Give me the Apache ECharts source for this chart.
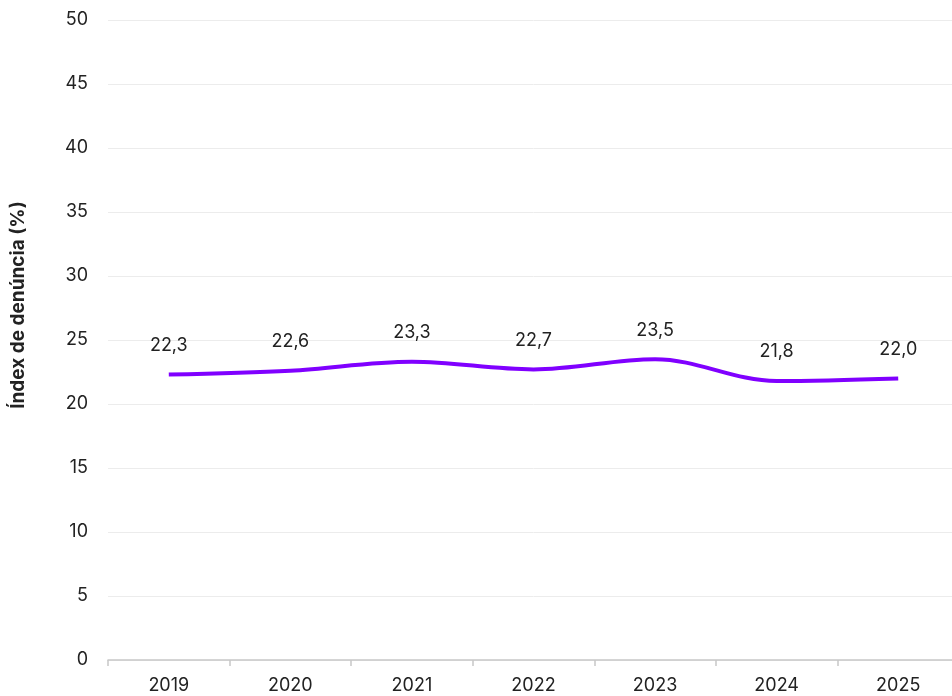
<!DOCTYPE html>
<html>
<head>
<meta charset="utf-8">
<script src="https://cdn.jsdelivr.net/npm/echarts@6/dist/echarts.min.js"></script>
<style>
  html, body { margin: 0; padding: 0; background: #fff; overflow: hidden; }
  #main { width: 960px; height: 696px; }
</style>
</head>
<body>
<div id="main"></div>
<script>
var years = ['2019', '2020', '2021', '2022', '2023', '2024', '2025'];
var indexValues = [22.3, 22.6, 23.3, 22.7, 23.5, 21.8, 22.0];
var yTicks = { min: 0, max: 50, interval: 5 };
var yName = 'Índex de denúncia (%)';

var chart = echarts.init(document.getElementById('main'));

var option = {
  animation: false,
  textStyle: { fontFamily: 'Inter, Roboto, sans-serif' },
  grid: { left: 108, right: 1, top: 20, bottom: 36 },
  xAxis: {
    type: 'category',
    data: years,
    boundaryGap: true,
    axisLine: { lineStyle: { color: '#c8c8c8', width: 1.5 } },
    axisTick: { show: true, length: 6, lineStyle: { color: '#c8c8c8', width: 1.5 } },
    axisLabel: { color: '#222', fontSize: 18, margin: 17 }
  },
  yAxis: {
    type: 'value',
    min: yTicks.min,
    max: yTicks.max,
    interval: yTicks.interval,
    name: yName,
    nameLocation: 'middle',
    nameGap: 80,
    nameTextStyle: { color: '#222', fontSize: 19, fontWeight: 'bold', padding: [0, 0, 0, 70] },
    axisLine: { show: false },
    axisTick: { show: false },
    axisLabel: { color: '#222', fontSize: 18, margin: 20 },
    splitLine: { lineStyle: { color: '#ececec', width: 1 } }
  },
  series: [{
    type: 'line',
    data: indexValues,
    smooth: 0.35,
    symbol: 'circle',
    symbolSize: 2,
    showSymbol: true,
    itemStyle: { color: 'rgba(128,0,255,0)', borderWidth: 0 },
    lineStyle: { color: '#8000ff', width: 4 },
    label: {
      show: true,
      position: 'top',
      distance: 19,
      color: '#222',
      fontSize: 18,
      formatter: function (p) { return p.value.toFixed(1).replace('.', ','); }
    }
  }]
};

chart.setOption(option);
</script>
</body>
</html>
